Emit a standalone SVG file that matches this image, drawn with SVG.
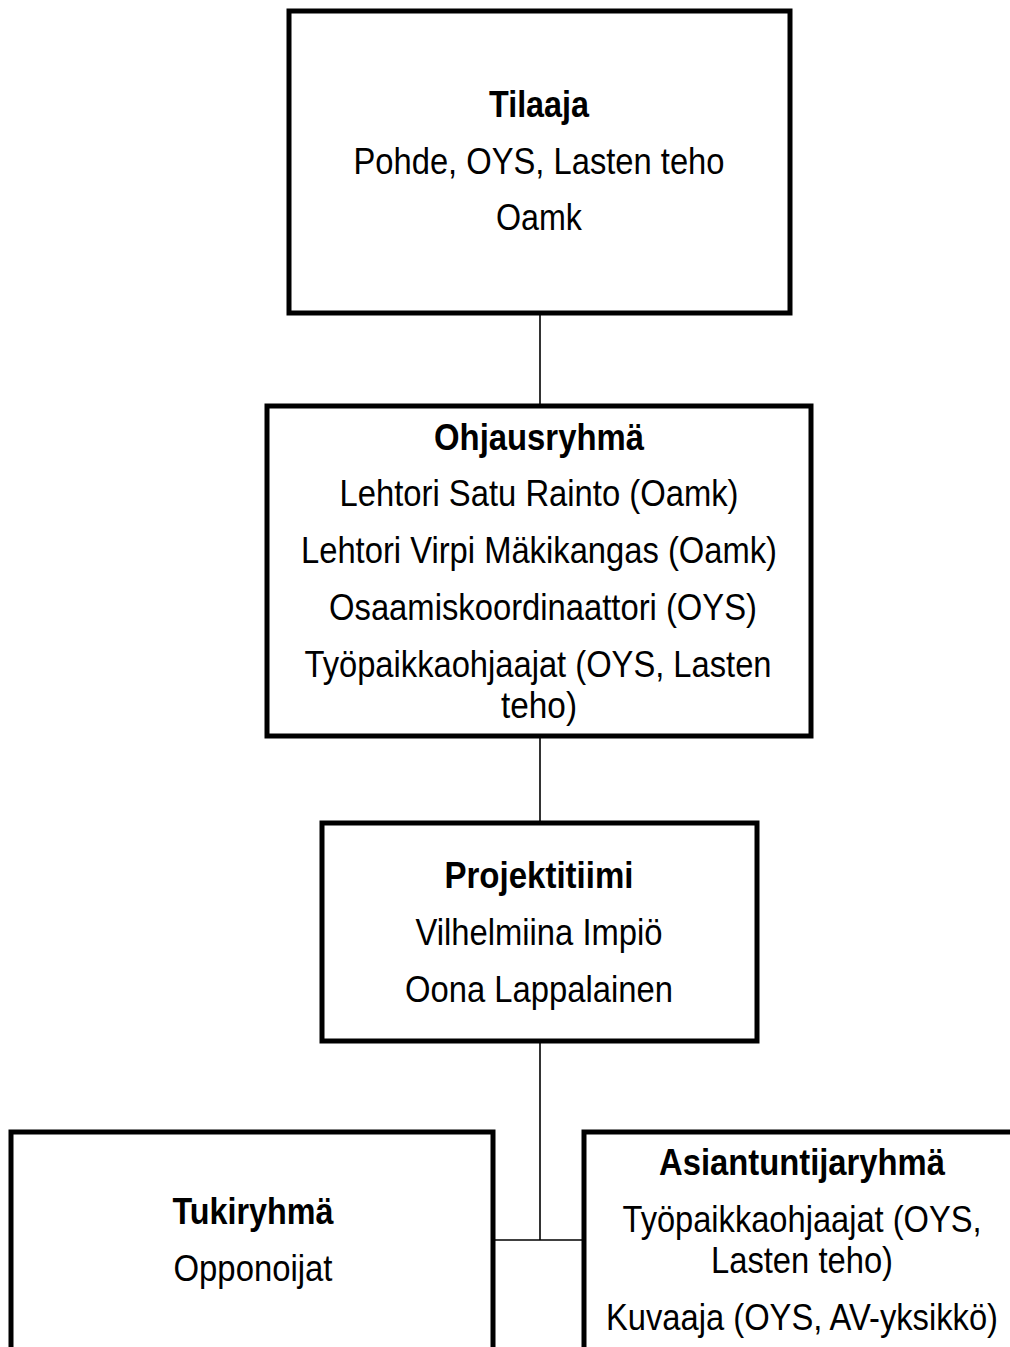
<svg xmlns="http://www.w3.org/2000/svg" width="1010" height="1347" viewBox="0 0 1010 1347">
<style>
.box{fill:#fff;stroke:#000;stroke-width:5}
.conn{stroke:#000;stroke-width:1.6;fill:none}
text{font-family:"Liberation Sans",Arial,sans-serif;font-size:37px;fill:#000;text-anchor:middle}
.b{font-weight:bold}
</style>
<rect width="1010" height="1347" fill="#fff"/>
<g id="connectors">
<line class="conn" x1="540" y1="313" x2="540" y2="406"/>
<line class="conn" x1="540" y1="736" x2="540" y2="822"/>
<line class="conn" x1="540" y1="1041" x2="540" y2="1240"/>
<line class="conn" x1="493" y1="1240" x2="584" y2="1240"/>
</g>
<g id="tilaaja">
<rect class="box" x="289" y="11" width="501" height="302"/>
<text class="b" x="539" y="117" textLength="100" lengthAdjust="spacingAndGlyphs">Tilaaja</text>
<text x="539" y="174" textLength="371" lengthAdjust="spacingAndGlyphs">Pohde, OYS, Lasten teho</text>
<text x="539" y="230" textLength="86" lengthAdjust="spacingAndGlyphs">Oamk</text>
</g>
<g id="ohjausryhma">
<rect class="box" x="267" y="406" width="544" height="330"/>
<text class="b" x="539" y="450" textLength="210" lengthAdjust="spacingAndGlyphs">Ohjausryhmä</text>
<text x="539" y="506" textLength="399" lengthAdjust="spacingAndGlyphs">Lehtori Satu Rainto (Oamk)</text>
<text x="539" y="563" textLength="476" lengthAdjust="spacingAndGlyphs">Lehtori Virpi Mäkikangas (Oamk)</text>
<text x="543" y="620" textLength="428" lengthAdjust="spacingAndGlyphs">Osaamiskoordinaattori (OYS)</text>
<text x="538" y="677" textLength="467" lengthAdjust="spacingAndGlyphs">Työpaikkaohjaajat (OYS, Lasten</text>
<text x="539" y="718" textLength="76" lengthAdjust="spacingAndGlyphs">teho)</text>
</g>
<g id="projektitiimi">
<rect class="box" x="322" y="823" width="435" height="218"/>
<text class="b" x="539" y="888" textLength="189" lengthAdjust="spacingAndGlyphs">Projektitiimi</text>
<text x="539" y="945" textLength="247" lengthAdjust="spacingAndGlyphs">Vilhelmiina Impiö</text>
<text x="539" y="1002" textLength="268" lengthAdjust="spacingAndGlyphs">Oona Lappalainen</text>
</g>
<g id="tukiryhma">
<rect class="box" x="11" y="1132" width="482" height="240"/>
<text class="b" x="253" y="1224" textLength="161" lengthAdjust="spacingAndGlyphs">Tukiryhmä</text>
<text x="253" y="1281" textLength="159" lengthAdjust="spacingAndGlyphs">Opponoijat</text>
</g>
<g id="asiantuntijaryhma">
<rect class="box" x="584" y="1132" width="460" height="240"/>
<text class="b" x="802" y="1175" textLength="286" lengthAdjust="spacingAndGlyphs">Asiantuntijaryhmä</text>
<text x="802" y="1232" textLength="359" lengthAdjust="spacingAndGlyphs">Työpaikkaohjaajat (OYS,</text>
<text x="802" y="1273" textLength="182" lengthAdjust="spacingAndGlyphs">Lasten teho)</text>
<text x="802" y="1330" textLength="392" lengthAdjust="spacingAndGlyphs">Kuvaaja (OYS, AV-yksikkö)</text>
</g>
</svg>
